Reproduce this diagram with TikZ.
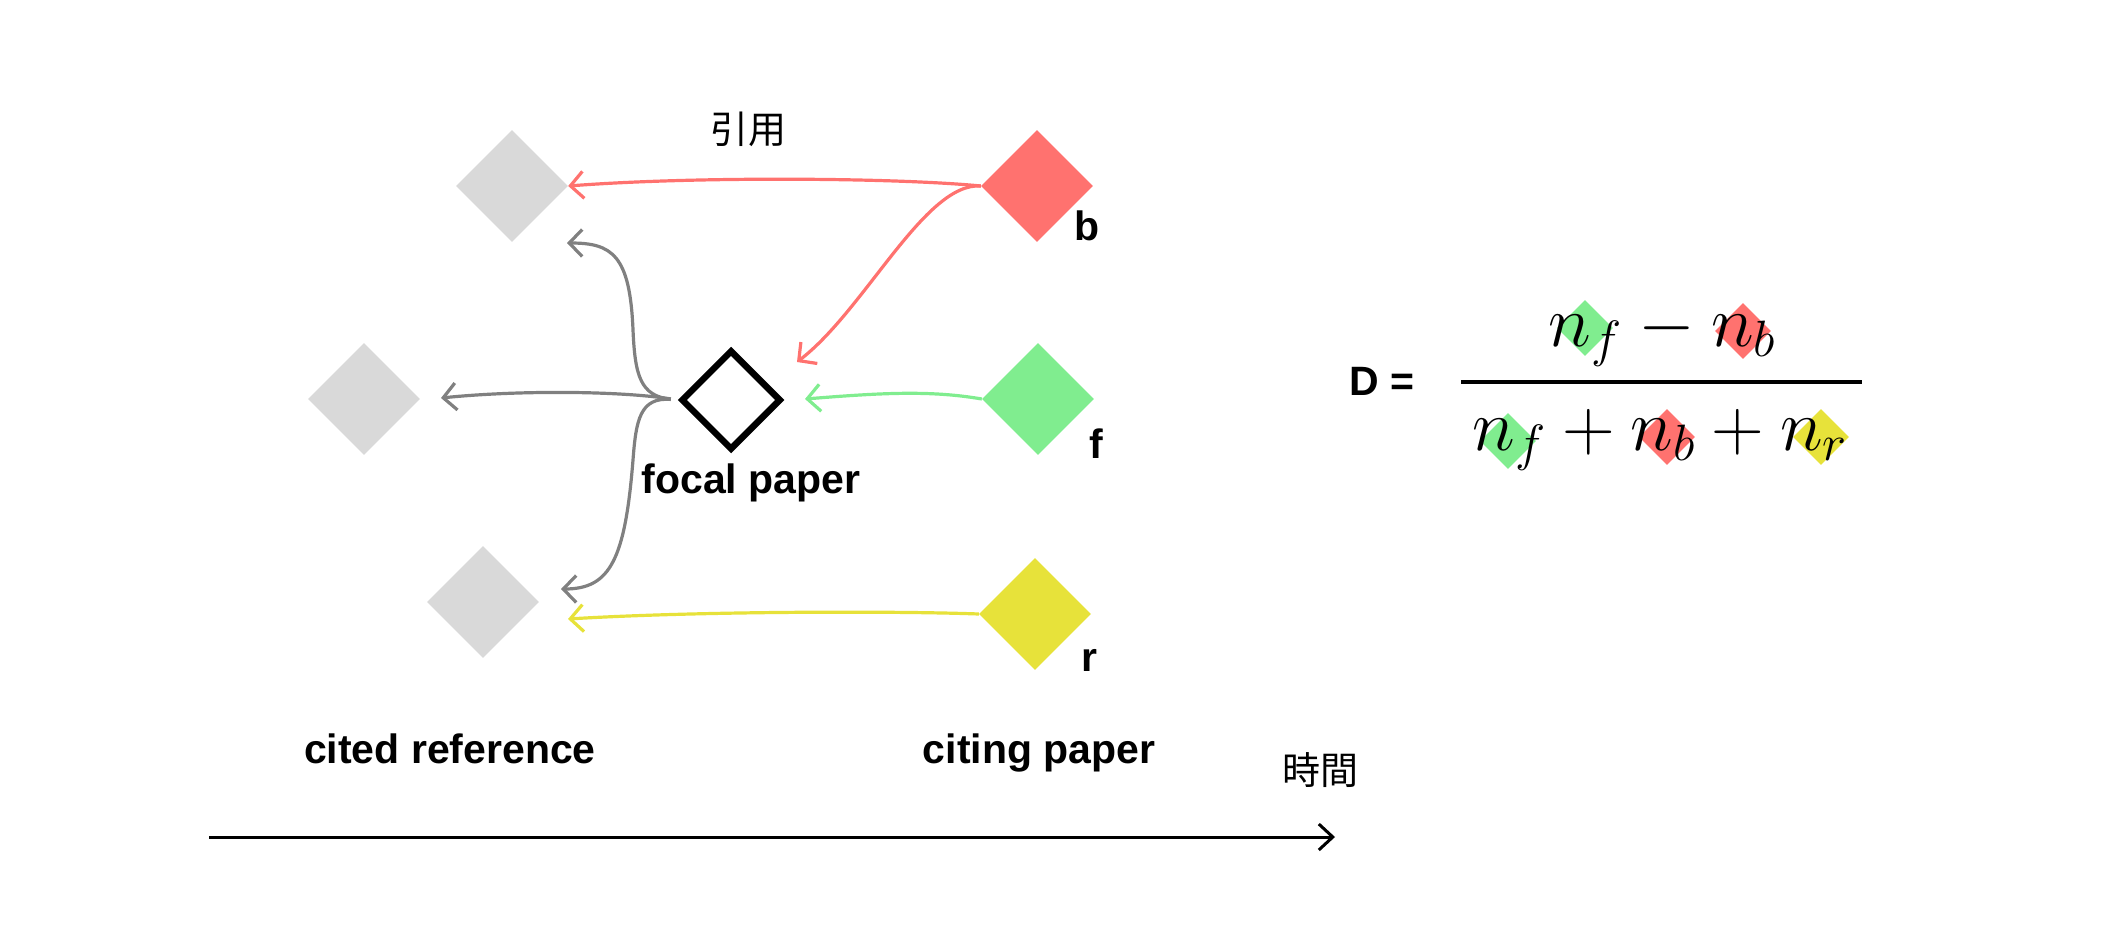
\RequirePackage{fix-cm}
\documentclass[tikz,border=0pt]{standalone}
\usepackage{fontspec}
\usetikzlibrary{arrows.meta,shapes.geometric}
\newfontfamily\labfont{Liberation Sans}
\newfontfamily\cjk{Noto Sans CJK JP}
\definecolor{cred}{RGB}{255,114,111}
\definecolor{cgreen}{RGB}{128,237,143}
\definecolor{cyellow}{RGB}{231,226,58}
\definecolor{cgray}{RGB}{217,217,217}
\definecolor{lgray}{RGB}{128,128,128}
\tikzset{
  paper/.style={diamond, aspect=1, minimum size=112pt, inner sep=0pt, draw=none},
  cite/.style={line width=3.2pt, -{Straight Barb[length=13pt,width=27pt]}},
  lab/.style={font=\labfont\bfseries\fontsize{41}{49}\selectfont, inner sep=0pt},
  cjklab/.style={font=\cjk\fontsize{38}{44}\selectfont, inner sep=0pt},
  mathlab/.style={font=\fontsize{73}{80}\selectfont, inner sep=0pt},
  fdiam/.style={diamond, aspect=1, minimum size=56pt, inner sep=0pt, draw=none},
}
\begin{document}
\begin{tikzpicture}[x=1pt,y=-1pt]
\path[use as bounding box] (0,0) rectangle (2114,924);
% papers
\node[paper, fill=cgray] (g1) at (512,186) {};
\node[paper, fill=cgray] (g2) at (364,399) {};
\node[paper, fill=cgray] (g3) at (483,602) {};
\node[paper, fill=cred] (b) at (1037,186) {};
\node[paper, fill=cgreen] (f) at (1038,399) {};
\node[paper, fill=cyellow] (r) at (1035,614) {};
\node[diamond, aspect=1, minimum size=100pt, inner sep=0pt, draw=black, line width=6.5pt, fill=white] (focal) at (731,400) {};
% tip coordinates
\coordinate (tfocalb) at (797,362);
\coordinate (tfocalf) at (805,399);
\coordinate (tg1) at (567,243);
\coordinate (tg2) at (441,398);
\coordinate (tg3) at (561,589);
\coordinate (tg3r) at (568,619);
% connectors
\draw[cite, cred] (b.west) .. controls (900,178) and (700,176) .. (g1.east);
\draw[cite, cred] (b.west) .. controls (925,182) and (865,310) .. (tfocalb);
\draw[cite, cgreen] (f.west) .. controls (930,390) and (880,393) .. (tfocalf);
\draw[cite, lgray, shorten <=7pt] (focal.west) .. controls (620,391) and (520,390) .. (tg2);
\draw[cite, lgray, shorten <=7pt] (focal.west) .. controls (640,396) and (635,375) .. (633,330) .. controls (630,255) and (612,243) .. (tg1);
\draw[cite, lgray, shorten <=7pt] (focal.west) .. controls (640,397) and (636,420) .. (633,460) .. controls (625,560) and (610,589) .. (tg3);
\draw[cite, cyellow] (r.west) .. controls (900,611) and (700,611) .. (tg3r);
% labels
\node[lab, anchor=base] (lb) at (1087,240) {b};
\node[lab, anchor=base] (lf) at (1096,458) {f};
\node[lab, anchor=base] (lr) at (1089,671) {r};
\node[lab, anchor=base] (lfocal) at (751,493) {focal paper};
\node[lab, anchor=base] (lcited) at (450,763) {cited reference};
\node[lab, anchor=base] (lciting) at (1039,763) {citing paper};
\node[cjklab] (ltime) at (1320,770) {時間};
\node[cjklab] (lcite) at (748,129) {引用};
% time axis
\coordinate (t0) at (209,837);
\coordinate (t1) at (1335,837);
\draw[line width=3pt, -{Straight Barb[length=14pt,width=26pt]}] (t0) -- (t1);
% formula
\node[lab, anchor=base] (D) at (1382,395) {D =};
\node[fdiam, fill=cgreen] (ng1) at (1585,328) {};
\node[fdiam, fill=cred] (nr1) at (1743,331) {};
\node[fdiam, fill=cgreen] (dg1) at (1508,441) {};
\node[fdiam, fill=cred] (dr1) at (1667,437) {};
\node[fdiam, fill=cyellow] (dy1) at (1821,437) {};
\coordinate (fb0) at (1461,382);
\coordinate (fb1) at (1862,382);
\draw[line width=4pt] (fb0) -- (fb1);
\node[mathlab, anchor=base] (num) at (1662,346) {$n_f - n_b$};
\node[mathlab, anchor=base] (den) at (1660,450) {$n_f + n_b + n_r$};
\end{tikzpicture}
\end{document}
